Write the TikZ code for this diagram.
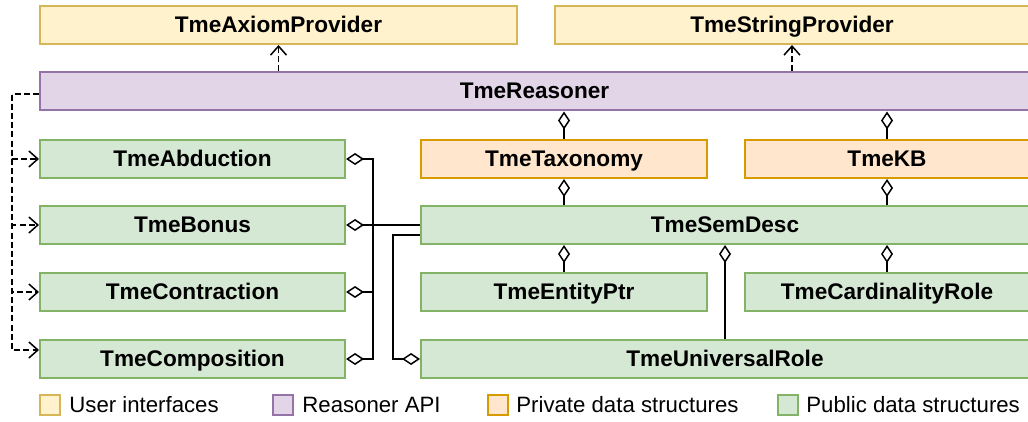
\documentclass[tikz,border=0pt]{standalone}
\usepackage{fontspec}
\setmainfont{Liberation Sans}
\usetikzlibrary{arrows.meta}

\definecolor{uifill}{HTML}{FFF2CC}
\definecolor{uidraw}{HTML}{D6B656}
\definecolor{apifill}{HTML}{E1D5E7}
\definecolor{apidraw}{HTML}{9673A6}
\definecolor{privfill}{HTML}{FFE6CC}
\definecolor{privdraw}{HTML}{D79B00}
\definecolor{pubfill}{HTML}{D5E8D4}
\definecolor{pubdraw}{HTML}{82B366}

\tikzset{
  cls/.style={draw, line width=1pt, minimum height=19pt, inner sep=0pt,
    text height=0.72em, text depth=0pt,
    font=\bfseries\fontsize{11.3}{13}\selectfont},
  ui/.style={cls, fill=uifill, draw=uidraw},
  api/.style={cls, fill=apifill, draw=apidraw},
  priv/.style={cls, fill=privfill, draw=privdraw},
  pub/.style={cls, fill=pubfill, draw=pubdraw},
  uses/.style={line width=0.75pt, dash pattern=on 3pt off 1.6pt,
    -{Straight Barb[length=4.5pt,width=8pt]}},
  agg/.style={line width=0.75pt, {Diamond[fill=white,length=9pt,width=6pt]}-},
  key/.style={minimum width=10pt, minimum height=10pt},
  keytext/.style={anchor=west, inner sep=0pt, font=\fontsize{11.1}{13}\selectfont}
}

\begin{document}
\begin{tikzpicture}[x=0.5pt,y=-0.5pt]
      \useasboundingbox (0,0) rectangle (1028,422) ;
      \begin{scope}
      \clip (0,0) rectangle (1028,422) ;
      % user interfaces
      \node[ui,minimum width=238.5pt] (axiom) at (278.5,25) {TmeAxiomProvider} ;
      \node[ui,minimum width=237pt] (string) at (792,25) {TmeStringProvider} ;
      % reasoner API
      \node[api,minimum width=494.5pt] (reasoner) at (534.5,91.5) {TmeReasoner} ;
      % public data structures (left column)
      \node[pub,minimum width=152.5pt] (abduction) at (192.5,159) {TmeAbduction} ;
      \node[pub,minimum width=152.5pt] (bonus) at (192.5,225) {TmeBonus} ;
      \node[pub,minimum width=152.5pt] (contraction) at (192.5,292) {TmeContraction} ;
      \node[pub,minimum width=152.5pt] (composition) at (192.5,359) {TmeComposition} ;
      % private data structures
      \node[priv,minimum width=143pt] (taxonomy) at (564,159) {TmeTaxonomy} ;
      \node[priv,minimum width=142pt] (kb) at (887,159) {TmeKB} ;
      % public data structures (right part)
      \node[pub,minimum width=304pt] (semdesc) at (725,225) {TmeSemDesc} ;
      \node[pub,minimum width=143pt] (entity) at (564,292) {TmeEntityPtr} ;
      \node[pub,minimum width=142pt] (cardinality) at (887,292) {TmeCardinalityRole} ;
      \node[pub,minimum width=304pt] (universal) at (725,359) {TmeUniversalRole} ;
      \end{scope}

      \draw[uses] (axiom.south |- reasoner.north) -- (axiom.south) ;
      \draw[uses] (string.south |- reasoner.north) -- (string.south) ;
      \draw[agg] (taxonomy.north |- reasoner.south) -- (taxonomy.north) ;
      \draw[agg] (kb.north |- reasoner.south) -- (kb.north) ;
      \draw[agg] (taxonomy.south) -- (taxonomy.south |- semdesc.north) ;
      \draw[agg] (kb.south) -- (kb.south |- semdesc.north) ;
      \draw[agg] (entity.north |- semdesc.south) -- (entity.north) ;
      \draw[agg] (cardinality.north |- semdesc.south) -- (cardinality.north) ;
      \draw[agg] (semdesc.south) -- (universal.north) ;

      % semdesc shared by the left column
      \coordinate (bus) at (373,225) ;
      \foreach \n in {abduction,bonus,contraction,composition}
        \draw[agg] (\n.east) -| (bus) -- (semdesc.west) ;
      \coordinate (bus2) at (393,235) ;
      \draw[agg] (universal.west) -| (bus2) -- (bus2 -| semdesc.west) ;

      % reasoner uses the left column
      \coordinate (dl) at (12,94) ;
      \foreach \n in {abduction,bonus,contraction}
        \draw[uses] (dl -| reasoner.west) -- (dl) |- (\n.west) ;
      \draw[uses] (dl -| reasoner.west) -- (dl) |- ([yshift=4.5pt]composition.west) ;

      % legend
      \node[ui,key] (keyui) at (50,405) {} ;
      \node[keytext] (keyuitext) at (69,405) {User interfaces} ;
      \node[api,key] (keyapi) at (282.5,405) {} ;
      \node[keytext] (keyapitext) at (302,405) {Reasoner API} ;
      \node[priv,key] (keypriv) at (497.5,405) {} ;
      \node[keytext] (keyprivtext) at (516,405) {Private data structures} ;
      \node[pub,key] (keypub) at (787.5,405) {} ;
      \node[keytext] (keypubtext) at (806,405) {Public data structures} ;
    \end{tikzpicture}
\end{document}
